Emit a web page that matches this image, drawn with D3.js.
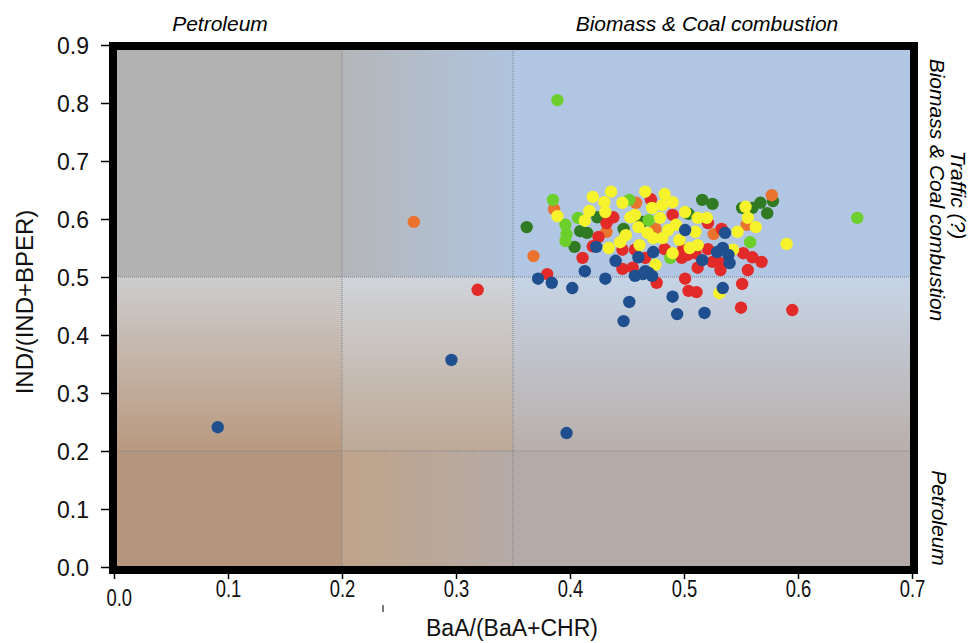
<!DOCTYPE html>
<html>
<head>
<meta charset="utf-8">
<script src="https://cdn.jsdelivr.net/npm/d3@7"></script>
<style>
  body { margin: 0; background: #fff; }
  text { font-family: "Liberation Sans", Arial, sans-serif; }
</style>
</head>
<body>
<svg width="971" height="643"></svg>
<script>
// tick values
var xTicks = [0, 0.1, 0.2, 0.3, 0.4, 0.5, 0.6, 0.7];
var yTicks = [0, 0.1, 0.2, 0.3, 0.4, 0.5, 0.6, 0.7, 0.8, 0.9];
// threshold lines
var xSplits = [0.2, 0.35];
var ySplits = [0.2, 0.5];

// [BaA/(BaA+CHR), IND/(IND+BPER)] per group
var darkGreen = [[0.362,0.586],[0.404,0.552],[0.409,0.579],[0.415,0.576],[0.424,0.603],[0.447,0.583],
  [0.463,0.595],[0.504,0.609],[0.516,0.633],[0.525,0.626],[0.551,0.619],[0.560,0.619],[0.567,0.628],
  [0.573,0.610],[0.578,0.631]];
var orange = [[0.263,0.595],[0.368,0.536],[0.386,0.617],[0.432,0.578],[0.458,0.628],[0.475,0.583],
  [0.526,0.574],[0.555,0.590],[0.577,0.641]];
var red = [[0.319,0.478],[0.380,0.505],[0.411,0.533],[0.420,0.553],[0.425,0.569],[0.432,0.593],
  [0.438,0.603],[0.446,0.547],[0.446,0.514],[0.455,0.516],[0.457,0.547],[0.466,0.533],[0.476,0.490],
  [0.483,0.548],[0.471,0.634],[0.490,0.607],[0.521,0.593],[0.499,0.547],[0.503,0.538],[0.498,0.533],
  [0.510,0.541],[0.512,0.516],[0.521,0.548],[0.525,0.526],[0.532,0.524],[0.532,0.512],[0.533,0.583],
  [0.552,0.541],[0.560,0.534],[0.568,0.526],[0.556,0.512],[0.501,0.497],[0.504,0.476],[0.511,0.474],
  [0.551,0.488],[0.550,0.447],[0.595,0.443]];
var lightGreen = [[0.389,0.805],[0.385,0.633],[0.396,0.590],[0.397,0.574],[0.396,0.562],[0.407,0.602],
  [0.452,0.633],[0.469,0.598],[0.488,0.533],[0.558,0.560],[0.652,0.602]];
var yellow = [[0.389,0.605],[0.417,0.614],[0.420,0.638],[0.431,0.612],[0.430,0.629],[0.436,0.647],
  [0.434,0.550],[0.449,0.572],[0.444,0.560],[0.446,0.628],[0.453,0.603],[0.457,0.607],[0.460,0.586],
  [0.466,0.647],[0.472,0.619],[0.468,0.576],[0.473,0.567],[0.481,0.624],[0.483,0.643],[0.479,0.602],
  [0.475,0.521],[0.490,0.629],[0.501,0.612],[0.512,0.602],[0.520,0.602],[0.510,0.578],[0.496,0.564],
  [0.512,0.555],[0.505,0.550],[0.490,0.541],[0.547,0.578],[0.543,0.547],[0.554,0.621],[0.556,0.602],
  [0.563,0.586],[0.590,0.557],[0.531,0.472],[0.413,0.597],[0.481,0.567],[0.486,0.581],[0.493,0.590],
  [0.461,0.555]];
var blue = [[0.091,0.241],[0.296,0.357],[0.397,0.231],[0.372,0.497],[0.384,0.490],[0.402,0.481],
  [0.413,0.510],[0.423,0.552],[0.440,0.528],[0.431,0.497],[0.452,0.457],[0.447,0.424],[0.457,0.502],
  [0.464,0.505],[0.469,0.507],[0.472,0.502],[0.466,0.510],[0.460,0.534],[0.473,0.543],[0.501,0.581],
  [0.516,0.529],[0.529,0.543],[0.534,0.550],[0.539,0.538],[0.540,0.524],[0.536,0.576],[0.490,0.466],
  [0.494,0.436],[0.518,0.438],[0.534,0.481]];

var groups = [
  {pts: darkGreen, color: "#2f7a22"},
  {pts: orange, color: "#ea7330"},
  {pts: red, color: "#e22a28"},
  {pts: lightGreen, color: "#6ccf2c"},
  {pts: yellow, color: "#f6f22c"},
  {pts: blue, color: "#1f4f8e"}
];

var svg = d3.select("svg");
var margin = {left: 114, top: 45, right: 59, bottom: 76};
var width = 971 - margin.left - margin.right;
var height = 643 - margin.top - margin.bottom;

var x = d3.scaleLinear().domain([0, 0.7]).range([0, width]);
var y = d3.scaleLinear().domain([0, 0.9]).range([height, 0]);

var defs = svg.append("defs");
function grad(id, c1, c2, vertical) {
  var g = defs.append("linearGradient").attr("id", id)
    .attr("x1", 0).attr("y1", 0).attr("x2", vertical ? 0 : 1).attr("y2", vertical ? 1 : 0);
  g.append("stop").attr("offset", "0%").attr("stop-color", c1);
  g.append("stop").attr("offset", "100%").attr("stop-color", c2);
}
grad("topMid", "#b4b6b9", "#b0c4de", false);
grad("midLeft", "#cdcdce", "#b9997f", true);
grad("midMid", "#d0d4da", "#bea996", true);
grad("midRight", "#c6d4e6", "#b9afab", true);
grad("botMid", "#c0a48a", "#b5aaa6", false);

var g = svg.append("g").attr("transform", "translate(" + margin.left + "," + margin.top + ")");

// background zones
var cells = [
  [0, 0.2, 0.5, 0.9, "#b2b2b2"], [0.2, 0.35, 0.5, 0.9, "url(#topMid)"], [0.35, 0.7, 0.5, 0.9, "#b1c6e2"],
  [0, 0.2, 0.2, 0.5, "url(#midLeft)"], [0.2, 0.35, 0.2, 0.5, "url(#midMid)"], [0.35, 0.7, 0.2, 0.5, "url(#midRight)"],
  [0, 0.2, 0, 0.2, "#b5967d"], [0.2, 0.35, 0, 0.2, "url(#botMid)"], [0.35, 0.7, 0, 0.2, "#b4aba9"]
];
g.selectAll("rect.zone").data(cells).enter().append("rect")
  .attr("class", "zone")
  .attr("x", function (d) { return x(d[0]); })
  .attr("width", function (d) { return x(d[1]) - x(d[0]); })
  .attr("y", function (d) { return y(d[3]); })
  .attr("height", function (d) { return y(d[2]) - y(d[3]); })
  .attr("fill", function (d) { return d[4]; });

// dotted split lines
g.selectAll("line.vs").data(xSplits).enter().append("line")
  .attr("x1", function (d) { return x(d); }).attr("x2", function (d) { return x(d); })
  .attr("y1", 0).attr("y2", height)
  .attr("stroke", "#7d838d").attr("stroke-width", 1).attr("stroke-dasharray", "1,1");
g.selectAll("line.hs").data(ySplits).enter().append("line")
  .attr("y1", function (d) { return y(d); }).attr("y2", function (d) { return y(d); })
  .attr("x1", 0).attr("x2", width)
  .attr("stroke", "#7d838d").attr("stroke-width", 1).attr("stroke-dasharray", "1,1");

// points
groups.forEach(function (grp) {
  g.append("g").selectAll("circle").data(grp.pts).enter().append("circle")
    .attr("cx", function (d) { return x(d[0]); })
    .attr("cy", function (d) { return y(d[1]); })
    .attr("r", 6.2)
    .attr("fill", grp.color);
});

// thick frame
g.append("rect").attr("x", -1).attr("y", 1).attr("width", width + 3).attr("height", height + 2)
  .attr("fill", "none").attr("stroke", "#000").attr("stroke-width", 8);

// axes
var yAxis = g.append("g").attr("transform", "translate(-5,0)")
  .call(d3.axisLeft(y).tickValues(yTicks).tickFormat(d3.format(".1f")).tickSize(8).tickPadding(12));
var xAxis = g.append("g").attr("transform", "translate(0," + (height + 5) + ")")
  .call(d3.axisBottom(x).tickValues(xTicks).tickFormat(d3.format(".1f")).tickSize(7).tickPadding(2));
[yAxis, xAxis].forEach(function (a) {
  a.select(".domain").remove();
  a.selectAll("line").attr("stroke", "#000").attr("stroke-width", 1.5);
  a.selectAll("text").attr("font-size", 23).attr("fill", "#111");
});
yAxis.selectAll("text").attr("dy", "0.36em");
// x tick labels look horizontally squeezed
xAxis.selectAll("text").attr("transform", "scale(0.8,1)");
xAxis.selectAll("text").filter(function (d) { return d === 0; }).attr("x", 6).attr("dy", "1.1em");

// stray tick under the x axis
g.append("line").attr("x1", x(0.236)).attr("x2", x(0.236))
  .attr("y1", height + 38).attr("y2", height + 45).attr("stroke", "#222").attr("stroke-width", 1.2);

// axis titles
svg.append("text").attr("x", 512).attr("y", 636).attr("text-anchor", "middle")
  .attr("font-size", 23).attr("fill", "#111").text("BaA/(BaA+CHR)");
svg.append("text").attr("transform", "translate(33,302) rotate(-90)").attr("text-anchor", "middle")
  .attr("font-size", 24).attr("fill", "#111").text("IND/(IND+BPER)");

// zone labels
svg.append("text").attr("x", 220).attr("y", 31).attr("text-anchor", "middle")
  .attr("font-size", 21).attr("font-style", "italic").text("Petroleum");
svg.append("text").attr("x", 707).attr("y", 31).attr("text-anchor", "middle")
  .attr("font-size", 21).attr("font-style", "italic").text("Biomass & Coal combustion");
svg.append("text").attr("transform", "translate(951,195) rotate(90)").attr("text-anchor", "middle")
  .attr("font-size", 21).attr("font-style", "italic").text("Traffic (?)");
svg.append("text").attr("transform", "translate(930,190) rotate(90)").attr("text-anchor", "middle")
  .attr("font-size", 21).attr("font-style", "italic").text("Biomass & Coal combustion");
svg.append("text").attr("transform", "translate(932,518) rotate(90)").attr("text-anchor", "middle")
  .attr("font-size", 21).attr("font-style", "italic").text("Petroleum");
</script>
</body>
</html>
